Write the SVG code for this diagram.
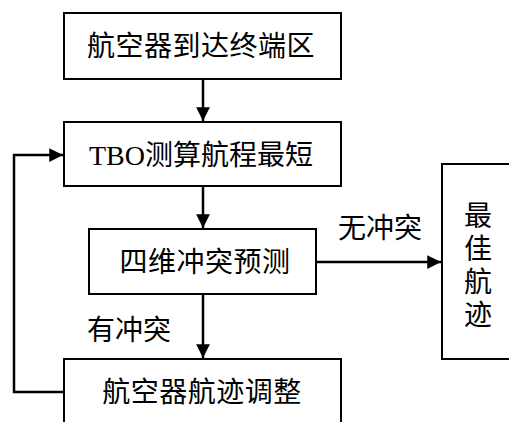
<svg xmlns="http://www.w3.org/2000/svg" width="509" height="422" viewBox="0 0 509 422">
<style>
.box{fill:#fff;stroke:#000;stroke-width:2}
.t{font-family:"Liberation Serif","Noto Sans CJK SC",serif;font-size:28px;fill:#000;text-anchor:middle;dominant-baseline:central}
.c{fill:none;stroke:#000;stroke-width:2.5}
</style>
<defs>
<marker id="ah" viewBox="0 0 10 10" refX="10" refY="5" markerWidth="5.5" markerHeight="5.5" markerUnits="strokeWidth" orient="auto">
<path d="M0,0L10,5L0,10z" fill="#000"/>
</marker>
</defs>
<rect width="509" height="422" fill="#fff"/>
<g id="connectors">
<line class="c" x1="203" y1="79" x2="203" y2="121" marker-end="url(#ah)"/>
<line class="c" x1="203" y1="186" x2="203" y2="228" marker-end="url(#ah)"/>
<line class="c" x1="316" y1="262" x2="441" y2="262" marker-end="url(#ah)"/>
<line class="c" x1="203" y1="294" x2="203" y2="358" marker-end="url(#ah)"/>
<polyline class="c" points="64,392 14,392 14,155 63,155" marker-end="url(#ah)"/>
<text class="t" x="380" y="228">无冲突</text>
<text class="t" x="129" y="330">有冲突</text>
</g>
<g id="n1">
<rect class="box" x="64" y="13" width="277" height="66"/>
<text class="t" x="201" y="46" letter-spacing="0.5">航空器到达终端区</text>
</g>
<g id="n2">
<rect class="box" x="64" y="122" width="277" height="64"/>
<text class="t" x="201" y="155">TBO测算航程最短</text>
</g>
<g id="n3">
<rect class="box" x="89" y="229" width="227" height="65"/>
<text class="t" x="205" y="262" letter-spacing="0.5">四维冲突预测</text>
</g>
<g id="n4">
<rect class="box" x="64" y="359" width="277" height="80"/>
<text class="t" x="202" y="392" letter-spacing="0.5">航空器航迹调整</text>
</g>
<g id="n5">
<rect class="box" x="442" y="164" width="80" height="195"/>
<text class="t" x="478" y="216">最</text>
<text class="t" x="478" y="249">佳</text>
<text class="t" x="478" y="282">航</text>
<text class="t" x="478" y="315">迹</text>
</g>
</svg>
